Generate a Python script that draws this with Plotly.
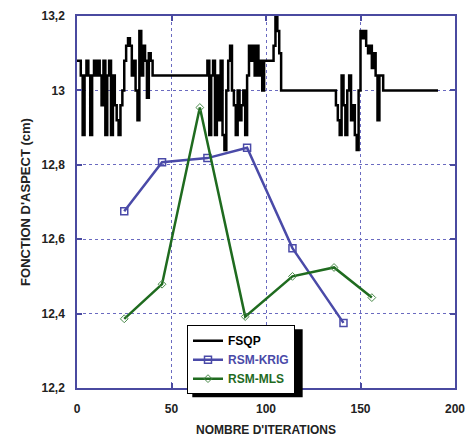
import plotly.graph_objects as go

# FSQP history (change points of a step curve)
fsqp_iter = [0, 2, 3, 4, 5, 6, 7, 8, 9, 10, 11, 12, 13, 14, 15, 16, 17, 18, 19, 20,
             21, 22, 23, 24, 25, 26, 27, 28, 29, 30, 31, 32, 33, 34, 35, 36, 37, 38, 39, 40,
             69, 70, 71, 72, 73, 74, 75, 76, 77, 78, 79, 80,
             81, 82, 83, 84, 85, 86, 87, 88, 89, 90, 91, 92, 93, 94, 95, 96, 97, 98, 99,
             104, 105, 106, 107, 108,
             137, 138, 139, 140, 141, 142, 143, 144, 145, 146, 147, 148, 149, 150,
             151, 152, 153, 154, 155, 156, 157, 158, 159, 160, 162, 191]
fsqp_val = [13.08, 13.04, 12.88, 13.04, 13.08, 13.04, 12.88, 13.04, 13.08, 13.04,
            13.08, 13.04, 12.96, 13.08, 12.88, 13.04, 13.08, 12.88, 13.04, 12.96,
            12.92, 12.88, 12.96, 13.00, 13.08, 13.12, 13.14, 13.12, 13.04, 13.08,
            13.00, 12.92, 13.16, 13.04, 13.12, 13.08, 12.98, 13.10, 13.08, 13.04,
            13.08, 12.88, 13.04, 13.08, 12.88, 13.04, 12.92, 13.08, 12.88, 12.84, 13.00, 13.08,
            13.12, 13.00, 12.96, 12.88, 13.00, 12.92, 12.96, 13.00, 12.88, 13.04, 13.12,
            13.08, 13.12, 13.04, 13.12, 13.04, 13.08, 13.00, 13.08,
            13.12, 13.20, 13.16, 13.10, 13.00,
            12.96, 12.92, 12.88, 13.04, 12.96, 12.88, 13.00, 13.04, 12.92, 12.96,
            12.88, 12.84, 13.00, 13.16,
            13.14, 13.16, 13.12, 13.10, 13.12, 13.06, 13.10, 13.04, 12.92, 13.04, 13.00, 13.00]

krig_iter = [25, 45, 69, 90, 114, 141]
krig_val = [12.675, 12.807, 12.818, 12.846, 12.576, 12.375]

mls_iter = [25, 45, 65, 89, 114, 136, 156]
mls_val = [12.386, 12.479, 12.954, 12.392, 12.500, 12.524, 12.443]

x_ticks = [0, 50, 100, 150, 200]
y_ticks = [12.2, 12.4, 12.6, 12.8, 13.0, 13.2]

BLUE = "#4a4aa8"
GREEN = "#1f6b1f"
AXIS = "#4a4aa0"
GRID = "#6a6ac0"
FONT = "Liberation Sans"

fig = go.Figure()
fig.add_trace(go.Scatter(x=fsqp_iter, y=fsqp_val, mode="lines", line_shape="hv",
                         line=dict(color="black", width=2.5), name="FSQP"))
fig.add_trace(go.Scatter(x=krig_iter, y=krig_val, mode="lines+markers",
                         line=dict(color=BLUE, width=2.5),
                         marker=dict(symbol="square-open", size=7, color=BLUE,
                                     line=dict(width=1.5, color=BLUE)),
                         name='<span style="color:#4a4aa8">RSM-KRIG</span>'))
fig.add_trace(go.Scatter(x=mls_iter, y=mls_val, mode="lines+markers",
                         line=dict(color=GREEN, width=2.5),
                         marker=dict(symbol="diamond-open", size=6, color="#4a8a4a",
                                     line=dict(width=1, color="#4a8a4a")),
                         name='<span style="color:#1f6b1f">RSM-MLS</span>'))

axis_common = dict(showline=True, linecolor=AXIS, linewidth=1.5, mirror="ticks",
                   ticks="inside", ticklen=5, tickcolor=AXIS, tickwidth=1.5,
                   showgrid=True, gridcolor=GRID, griddash="dot", gridwidth=1,
                   zeroline=False, automargin=False,
                   tickfont=dict(family=FONT, size=12, color="#222222", weight="bold"))

fig.update_xaxes(range=[0, 200], tickvals=x_ticks, ticklabelstandoff=9,
                 title=dict(text="NOMBRE D'ITERATIONS", standoff=10,
                            font=dict(family=FONT, size=12, color="#222222", weight="bold")),
                 **axis_common)
fig.update_yaxes(range=[12.2, 13.2], tickvals=y_ticks, ticklabelstandoff=8,
                 title=dict(text="FONCTION D'ASPECT (cm)", standoff=8,
                            font=dict(family=FONT, size=13, color="#222222", weight="bold")),
                 **axis_common)

# drop shadow behind the legend box (paper coordinates)
fig.add_shape(type="rect", xref="paper", yref="paper",
              x0=0.305, x1=0.597, y0=-0.025, y1=0.158,
              fillcolor="black", line=dict(width=0), layer="above")

fig.update_layout(
    width=468, height=441,
    margin=dict(l=77, r=13, t=16, b=53),
    plot_bgcolor="white", paper_bgcolor="white",
    separators=", ",
    showlegend=True,
    legend=dict(x=0.291, y=0.169, xanchor="left", yanchor="top",
                bgcolor="white", bordercolor="black", borderwidth=1,
                font=dict(family=FONT, size=12, color="black", weight="bold"),
                tracegroupgap=0),
)

fig.write_html("out.html", config={"displayModeBar": False},
               post_script="document.body.style.margin='0';document.body.style.padding='0';")
